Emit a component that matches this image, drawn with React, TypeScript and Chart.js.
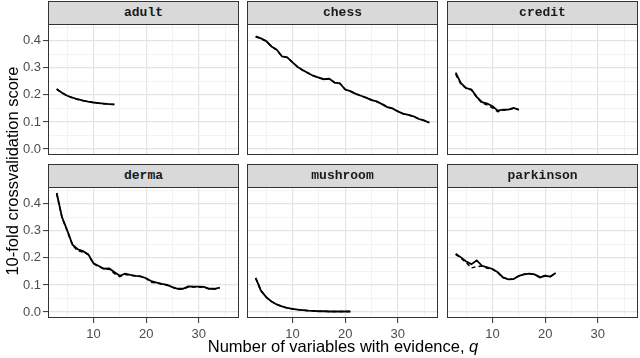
import { useEffect, useRef } from "react";
import { Chart, registerables } from "chart.js";

Chart.register(...registerables);

// ---------- data ----------
const qValues = [3, 4, 5, 6, 7, 8, 9, 10, 11, 12, 13, 14, 15, 16, 17, 18, 19, 20, 21, 22, 23, 24, 25, 26, 27, 28, 29, 30, 31, 32, 33, 34, 35, 36];

const panelNames = ["adult", "chess", "credit", "derma", "mushroom", "parkinson"];

const adultSolid = [0.222, 0.208, 0.197, 0.190, 0.184, 0.179, 0.175, 0.172, 0.170, 0.168, 0.166, 0.165];
const adultDashed = [0.221, 0.207, 0.197, 0.189, 0.183, 0.179, 0.175, 0.172, 0.169, 0.167, 0.166, 0.164];

const chessSolid = [0.416, 0.409, 0.399, 0.379, 0.367, 0.342, 0.339, 0.320, 0.303, 0.291, 0.280, 0.270, 0.264, 0.258, 0.260, 0.245, 0.243, 0.220, 0.214, 0.204, 0.197, 0.190, 0.181, 0.176, 0.166, 0.155, 0.150, 0.139, 0.131, 0.126, 0.121, 0.111, 0.106, 0.097];
const chessDashed = [0.415, 0.408, 0.398, 0.380, 0.366, 0.343, 0.338, 0.321, 0.302, 0.290, 0.281, 0.271, 0.263, 0.257, 0.259, 0.246, 0.242, 0.221, 0.213, 0.205, 0.196, 0.189, 0.182, 0.175, 0.167, 0.156, 0.149, 0.140, 0.130, 0.127, 0.120, 0.112, 0.105, 0.098];

const creditSolid = [0.282, 0.243, 0.225, 0.220, 0.193, 0.173, 0.168, 0.158, 0.142, 0.146, 0.146, 0.152, 0.146];
const creditDashed = [0.276, 0.240, 0.224, 0.218, 0.191, 0.170, 0.163, 0.152, 0.138, 0.143, 0.145, 0.150, 0.145];

const dermaSolid = [0.440, 0.351, 0.302, 0.249, 0.232, 0.225, 0.213, 0.180, 0.170, 0.160, 0.161, 0.147, 0.134, 0.142, 0.137, 0.134, 0.132, 0.125, 0.114, 0.109, 0.104, 0.100, 0.092, 0.086, 0.086, 0.095, 0.094, 0.094, 0.093, 0.086, 0.086, 0.090];
const dermaDashed = [0.438, 0.350, 0.300, 0.247, 0.226, 0.222, 0.212, 0.178, 0.168, 0.159, 0.158, 0.142, 0.131, 0.139, 0.136, 0.133, 0.131, 0.124, 0.110, 0.107, 0.103, 0.099, 0.091, 0.085, 0.085, 0.092, 0.093, 0.092, 0.092, 0.085, 0.085, 0.089];

const mushroomSolid = [0.126, 0.079, 0.055, 0.039, 0.028, 0.021, 0.015, 0.012, 0.009, 0.007, 0.005, 0.004, 0.003, 0.003, 0.002, 0.002, 0.002, 0.002, 0.002];
const mushroomDashed = [0.125, 0.079, 0.055, 0.039, 0.028, 0.020, 0.015, 0.011, 0.009, 0.007, 0.005, 0.004, 0.003, 0.003, 0.002, 0.002, 0.002, 0.002, 0.002];

const parkinsonSolid = [0.215, 0.202, 0.187, 0.177, 0.191, 0.171, 0.165, 0.159, 0.147, 0.128, 0.121, 0.122, 0.134, 0.139, 0.142, 0.139, 0.128, 0.134, 0.131, 0.144];
const parkinsonDashed = [0.213, 0.199, 0.183, 0.163, 0.168, 0.170, 0.162, 0.158, 0.146, 0.127, 0.122, 0.121, 0.133, 0.140, 0.142, 0.139, 0.130, 0.135, 0.131, 0.143];

const solidSeries = [adultSolid, chessSolid, creditSolid, dermaSolid, mushroomSolid, parkinsonSolid];
const dashedSeries = [adultDashed, chessDashed, creditDashed, dermaDashed, mushroomDashed, parkinsonDashed];

const xTickValues = [5, 10, 15, 20, 25, 30, 35];
const xTickLabels = ["", "10", "", "20", "", "30", ""];
const yTickValues = [0, 0.05, 0.1, 0.15, 0.2, 0.25, 0.3, 0.35, 0.4, 0.45];
const yTickLabels = ["0.0", "", "0.1", "", "0.2", "", "0.3", "", "0.4", ""];

const yAxisTitle = "10-fold crossvalidation score";
const xAxisTitleMain = "Number of variables with evidence, ";
const xAxisTitleVar = "q";

// ---------- layout ----------
const W = 640;
const H = 358;
const PANEL_W = 191;
const PANEL_H = 131;
const STRIP_H = 24;
const colLefts = [48, 247, 447];
const rowTops = [24, 187];
const Y_AXIS_W = 40;
const X_AXIS_H = 30;
const X_MIN = 1.35;
const X_MAX = 37.65;
const Y_MIN = -0.022;
const Y_MAX = 0.462;
const SANS = "'Liberation Sans', Arial, Helvetica, sans-serif";

const borderPlugin = {
  id: "panelBorder",
  afterDraw(chart: any) {
    const { ctx, chartArea } = chart;
    ctx.save();
    ctx.strokeStyle = "#333333";
    ctx.lineWidth = 1;
    ctx.strokeRect(chartArea.left + 0.5, chartArea.top + 0.5, chartArea.right - chartArea.left - 1, chartArea.bottom - chartArea.top - 1);
    ctx.restore();
  },
};

function isMajorX(v: number) {
  const i = xTickValues.indexOf(v);
  return i >= 0 && xTickLabels[i] !== "";
}
function yIndex(v: number) {
  let best = 0;
  for (let i = 0; i < yTickValues.length; i++) {
    if (Math.abs(yTickValues[i] - v) < Math.abs(yTickValues[best] - v)) best = i;
  }
  return best;
}
function isMajorY(v: number) {
  return yTickLabels[yIndex(v)] !== "";
}

function Panel({ idx }: { idx: number }) {
  const ref = useRef<HTMLCanvasElement | null>(null);
  const col = idx % 3;
  const row = Math.floor(idx / 3);
  const left = colLefts[col];
  const top = rowTops[row];
  const showY = col === 0;
  const showX = row === 1;

  useEffect(() => {
    if (!ref.current) return;
    const solid = solidSeries[idx];
    const dashed = dashedSeries[idx];
    const chart = new Chart(ref.current, {
      type: "line",
      data: {
        datasets: [
          {
            data: dashed.map((y, i) => ({ x: qValues[i], y })),
            borderColor: "#000000",
            borderWidth: 1.5,
            borderDash: [4, 3],
            pointRadius: 0,
            tension: 0,
            fill: false,
          },
          {
            data: solid.map((y, i) => ({ x: qValues[i], y })),
            borderColor: "#000000",
            borderWidth: 1.8,
            pointRadius: 0,
            tension: 0,
            fill: false,
          },
        ],
      },
      options: {
        animation: false,
        responsive: false,
        devicePixelRatio: 1,
        events: [],
        layout: {
          padding: {
            left: left - Y_AXIS_W,
            top: top,
            right: W - (left + PANEL_W),
            bottom: H - (top + PANEL_H) - X_AXIS_H,
          },
        },
        plugins: {
          legend: { display: false },
          tooltip: { enabled: false },
          title: { display: false },
        },
        scales: {
          x: {
            type: "linear",
            min: X_MIN,
            max: X_MAX,
            afterBuildTicks: (s: any) => {
              s.ticks = xTickValues.map((v) => ({ value: v }));
            },
            afterFit: (s: any) => {
              s.height = X_AXIS_H;
            },
            border: { display: false },
            grid: {
              color: (c: any) => (isMajorX(c.tick?.value) ? "#e4e4e4" : "#eeeeee"),
              lineWidth: (c: any) => (isMajorX(c.tick?.value) ? 1.2 : 0.7),
              drawTicks: true,
              tickLength: 5,
              tickColor: (c: any) => (showX && isMajorX(c.tick?.value) ? "#333333" : "rgba(0,0,0,0)"),
              tickWidth: 1,
            },
            ticks: {
              display: showX,
              autoSkip: false,
              maxRotation: 0,
              minRotation: 0,
              padding: 4,
              color: "#4d4d4d",
              font: { family: SANS, size: 13 },
              callback: (v: any) => {
                const i = xTickValues.indexOf(Number(v));
                return i >= 0 ? xTickLabels[i] : "";
              },
            },
          },
          y: {
            type: "linear",
            min: Y_MIN,
            max: Y_MAX,
            afterBuildTicks: (s: any) => {
              s.ticks = yTickValues.map((v) => ({ value: v }));
            },
            afterFit: (s: any) => {
              s.width = Y_AXIS_W;
            },
            border: { display: false },
            grid: {
              color: (c: any) => (isMajorY(c.tick?.value) ? "#e4e4e4" : "#eeeeee"),
              lineWidth: (c: any) => (isMajorY(c.tick?.value) ? 1.2 : 0.7),
              drawTicks: true,
              tickLength: 5,
              tickColor: (c: any) => (showY && isMajorY(c.tick?.value) ? "#333333" : "rgba(0,0,0,0)"),
              tickWidth: 1,
            },
            ticks: {
              display: showY,
              autoSkip: false,
              padding: 2,
              color: "#4d4d4d",
              font: { family: SANS, size: 13 },
              callback: (v: any) => yTickLabels[yIndex(Number(v))],
            },
          },
        },
      },
      plugins: [borderPlugin],
    } as any);
    return () => chart.destroy();
  }, [idx]);

  return (
    <canvas
      ref={ref}
      width={W}
      height={H}
      style={{ position: "absolute", left: 0, top: 0, width: W, height: H, pointerEvents: "none" }}
    />
  );
}

export default function App() {
  return (
    <div
      style={{
        position: "fixed",
        left: 0,
        top: 0,
        width: W,
        height: H,
        background: "#ffffff",
        overflow: "hidden",
      }}
    >
      {panelNames.map((_, i) => (
        <Panel key={"p" + i} idx={i} />
      ))}
      {panelNames.map((name, i) => {
        const col = i % 3;
        const row = Math.floor(i / 3);
        return (
          <div
            key={"s" + i}
            style={{
              position: "absolute",
              left: colLefts[col],
              top: rowTops[row] - STRIP_H + 1,
              width: PANEL_W,
              height: STRIP_H,
              boxSizing: "border-box",
              background: "#d9d9d9",
              border: "1px solid #333333",
              fontFamily: "'Liberation Mono', 'DejaVu Sans Mono', monospace",
              fontWeight: "bold",
              fontSize: 13,
              color: "#1a1a1a",
              textAlign: "center",
              lineHeight: STRIP_H - 2 + "px",
            }}
          >
            {name}
          </div>
        );
      })}
      <div
        style={{
          position: "absolute",
          left: 12 - 150,
          top: 171 - 10,
          width: 300,
          height: 20,
          lineHeight: "20px",
          textAlign: "center",
          transform: "rotate(-90deg)",
          fontFamily: SANS,
          fontSize: 16.5,
          color: "#000000",
          whiteSpace: "nowrap",
        }}
      >
        {yAxisTitle}
      </div>
      <div
        style={{
          position: "absolute",
          left: 343 - 320,
          top: 336,
          width: 640,
          height: 20,
          lineHeight: "20px",
          textAlign: "center",
          fontFamily: SANS,
          fontSize: 16.5,
          color: "#000000",
          whiteSpace: "nowrap",
        }}
      >
        {xAxisTitleMain}
        <span style={{ fontStyle: "italic" }}>{xAxisTitleVar}</span>
      </div>
    </div>
  );
}
